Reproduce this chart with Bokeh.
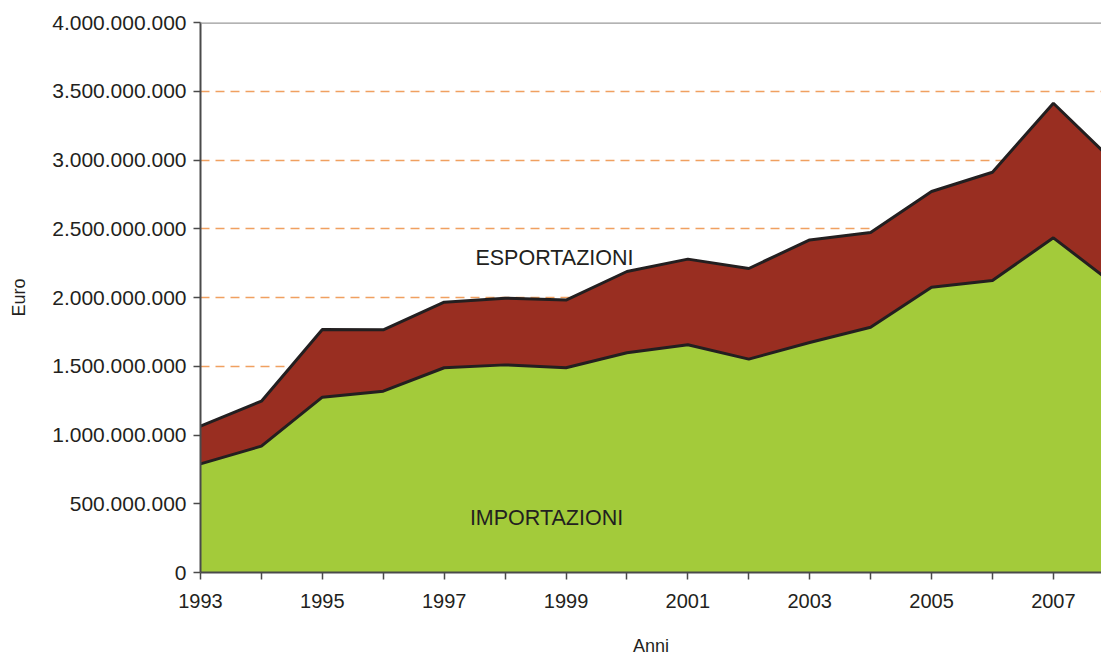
from bokeh.plotting import figure
from bokeh.models import Range1d, FixedTicker, Span
from bokeh.core.properties import value
from bokeh.embed import file_html
from bokeh.resources import INLINE
import numpy as np

years = [1993, 1994, 1995, 1996, 1997, 1998, 1999, 2000, 2001, 2002, 2003, 2004, 2005, 2006, 2007, 2008]
importazioni = [0.790e9, 0.919e9, 1.275e9, 1.319e9, 1.489e9, 1.510e9, 1.489e9, 1.598e9,
                1.656e9, 1.552e9, 1.673e9, 1.784e9, 2.075e9, 2.124e9, 2.434e9, 2.094e9]
esportazioni = [0.274e9, 0.327e9, 0.492e9, 0.446e9, 0.477e9, 0.485e9, 0.492e9, 0.591e9,
                0.623e9, 0.659e9, 0.746e9, 0.689e9, 0.696e9, 0.787e9, 0.979e9, 0.890e9]
y_ticks = [0, 500e6, 1000e6, 1500e6, 2000e6, 2500e6, 3000e6, 3500e6, 4000e6]
y_tick_labels = ["0", "500.000.000", "1.000.000.000", "1.500.000.000", "2.000.000.000",
                 "2.500.000.000", "3.000.000.000", "3.500.000.000", "4.000.000.000"]
x_ticks = list(range(1993, 2009))
x_tick_labels = [str(y) if y % 2 == 1 else "" for y in x_ticks]

imp = np.array(importazioni)
tot = imp + np.array(esportazioni)

FONT = "Liberation Sans"

p = figure(width=1101, height=658, output_backend="svg", toolbar_location=None,
           x_range=Range1d(1993, 2007.79), y_range=Range1d(0, 4e9),
           min_border_left=200, min_border_right=0, min_border_top=22, min_border_bottom=86)
p.outline_line_color = None
p.background_fill_color = "white"

p.varea(x=years, y1=0, y2=imp, fill_color="#A3CB3A")
p.varea(x=years, y1=imp, y2=tot, fill_color="#992E21")
p.line(x=years, y=imp, line_color="#231F20", line_width=3)
p.line(x=years, y=tot, line_color="#231F20", line_width=3)

# grid
p.xgrid.grid_line_color = None
p.ygrid.ticker = FixedTicker(ticks=y_ticks[1:-1])
p.ygrid.grid_line_color = "#F0A060"
p.ygrid.grid_line_dash = "9 6"
p.ygrid.grid_line_width = 1.5
p.ygrid.level = "underlay"

p.add_layout(Span(location=4e9, dimension="width", line_color="#9A9A9A", line_width=2.5))

# axes
p.yaxis.ticker = FixedTicker(ticks=y_ticks)
p.yaxis.major_label_overrides = {t: l for t, l in zip(y_ticks, y_tick_labels)}
p.xaxis.ticker = FixedTicker(ticks=x_ticks)
p.xaxis.major_label_overrides = {t: l for t, l in zip(x_ticks, x_tick_labels)}

for ax in (p.xaxis[0], p.yaxis[0]):
    ax.axis_line_color = "#4A4A4A"
    ax.axis_line_width = 2
    ax.major_tick_line_color = "#4A4A4A"
    ax.major_tick_line_width = 1.5
    ax.major_tick_out = 7
    ax.major_tick_in = 0
    ax.minor_tick_line_color = None
    ax.major_label_text_font = FONT
    ax.major_label_text_font_size = "20px"
    ax.major_label_text_color = "#231F20"
    ax.axis_label_text_font = FONT
    ax.axis_label_text_font_size = "18px"
    ax.axis_label_text_font_style = "normal"
    ax.axis_label_text_color = "#231F20"

p.yaxis.major_label_text_font_size = "21px"
p.yaxis.major_label_standoff = 7
p.yaxis.axis_label = "Euro"
p.yaxis.axis_label_standoff = 20
p.xaxis.major_label_standoff = 14
p.xaxis.axis_label = "Anni"
p.xaxis.axis_label_standoff = 25

p.text(x=[1998.81], y=[2.286e9], text=["ESPORTAZIONI"], text_font=value(FONT),
       text_font_size="21.5px", text_color="#231F20", text_align="center", text_baseline="middle")
p.text(x=[1998.68], y=[0.393e9], text=["IMPORTAZIONI"], text_font=value(FONT),
       text_font_size="21.5px", text_color="#231F20", text_align="center", text_baseline="middle")

open("out.html", "w").write(file_html(p, INLINE))
